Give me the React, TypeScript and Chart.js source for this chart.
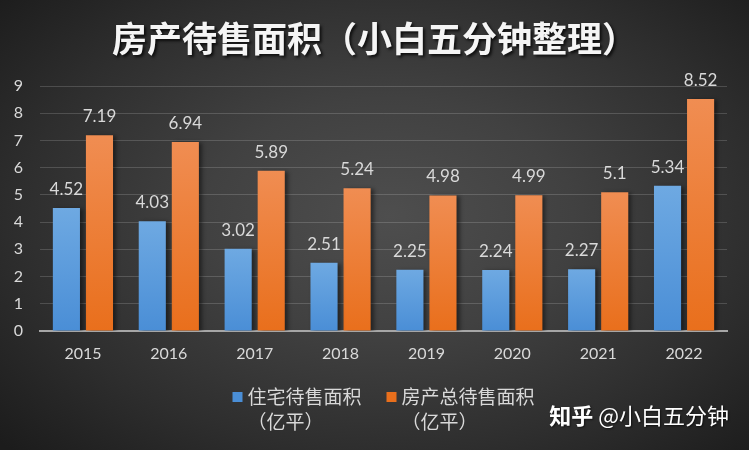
import React, { useEffect, useRef } from "react";
import { Chart, registerables } from "chart.js";

Chart.register(...registerables);

const years = ["2015", "2016", "2017", "2018", "2019", "2020", "2021", "2022"];
const residential = [4.52, 4.03, 3.02, 2.51, 2.25, 2.24, 2.27, 5.34];
const totalArea = [7.19, 6.94, 5.89, 5.24, 4.98, 4.99, 5.1, 8.52];
const yMax = 9;
const yStep = 1;
const titleText = "房产待售面积（小白五分钟整理）";
const legendLines = [
  ["住宅待售面积", "（亿平）"],
  ["房产总待售面积", "（亿平）"],
];
const watermarkBrand = "知乎";
const watermarkUser = " @小白五分钟";

const BLUE_TOP = "#6ea9e2";
const BLUE_BOTTOM = "#4a8ed6";
const ORANGE_TOP = "#f08d52";
const ORANGE_BOTTOM = "#e96f1c";
const TEXT = "#d9d9d9";
const CJK = '"Noto Sans CJK SC", "Noto Sans", sans-serif';
const NUM = 'Lato, "Open Sans", sans-serif';

function gradientFill(top: string, bottom: string) {
  return (c: any) => {
    const chart = c.chart;
    const { ctx, chartArea, scales } = chart;
    if (!chartArea || c.type !== "data" || !scales.y) return bottom;
    const yTop = scales.y.getPixelForValue(c.raw);
    const yBot = scales.y.getPixelForValue(0);
    if (!isFinite(yTop) || !isFinite(yBot) || yTop === yBot) return bottom;
    const g = ctx.createLinearGradient(0, yTop, 0, yBot);
    g.addColorStop(0, top);
    g.addColorStop(1, bottom);
    return g;
  };
}

const decorPlugin = {
  id: "decor",
  beforeDatasetsDraw(chart: any) {
    const ctx = chart.ctx;
    ctx.save();
    ctx.shadowColor = "rgba(0,0,0,0.45)";
    ctx.shadowBlur = 4;
    ctx.shadowOffsetX = 3;
    ctx.shadowOffsetY = 1;
  },
  afterDatasetsDraw(chart: any) {
    const ctx = chart.ctx;
    ctx.restore();
    // data labels
    ctx.save();
    ctx.font = `17px ${NUM}`;
    ctx.fillStyle = TEXT;
    ctx.textAlign = "center";
    ctx.textBaseline = "alphabetic";
    chart.data.datasets.forEach((ds: any, di: number) => {
      const meta = chart.getDatasetMeta(di);
      meta.data.forEach((bar: any, i: number) => {
        ctx.fillText(String(ds.data[i]), bar.x, bar.y - 13);
      });
    });
    ctx.restore();
  },
  afterDraw(chart: any) {
    const ctx = chart.ctx;
    const W = chart.width;
    // title
    ctx.save();
    ctx.font = `bold 35px ${CJK}`;
    ctx.textAlign = "center";
    ctx.textBaseline = "middle";
    ctx.shadowColor = "rgba(0,0,0,0.75)";
    ctx.shadowBlur = 3;
    ctx.shadowOffsetX = 2;
    ctx.shadowOffsetY = 2;
    ctx.fillStyle = "#f5f5f5";
    ctx.fillText(titleText, W / 2, 39);
    ctx.restore();

    // legend
    ctx.save();
    ctx.font = `19px ${CJK}`;
    ctx.textBaseline = "middle";
    ctx.textAlign = "left";
    const box = 10;
    const boxGap = 5;
    const itemGap = 25;
    const colors = [BLUE_BOTTOM, ORANGE_BOTTOM];
    const widths = legendLines.map(
      (lines) => box + boxGap + Math.max(...lines.map((l) => ctx.measureText(l).width))
    );
    const total = widths.reduce((a, b) => a + b, 0) + itemGap * (widths.length - 1);
    const ca = chart.chartArea;
    let x = (ca.left + ca.right) / 2 - total / 2;
    const y1 = 397;
    const lh = 25;
    legendLines.forEach((lines, i) => {
      ctx.fillStyle = colors[i];
      ctx.fillRect(x, y1 - box / 2, box, box);
      ctx.fillStyle = TEXT;
      lines.forEach((l, k) => ctx.fillText(l, x + box + boxGap, y1 + k * lh));
      x += widths[i] + itemGap;
    });
    ctx.restore();

    // watermark
    ctx.save();
    ctx.textAlign = "left";
    ctx.textBaseline = "middle";
    ctx.shadowColor = "rgba(0,0,0,0.6)";
    ctx.shadowBlur = 2;
    ctx.shadowOffsetX = 1;
    ctx.shadowOffsetY = 1;
    ctx.fillStyle = "#ffffff";
    ctx.font = `bold 22px ${CJK}`;
    const wb = ctx.measureText(watermarkBrand).width;
    ctx.font = `22px ${CJK}`;
    const wu = ctx.measureText(watermarkUser).width;
    const wx = 729 - wb - wu;
    ctx.font = `bold 22px ${CJK}`;
    ctx.fillText(watermarkBrand, wx, 416);
    ctx.font = `22px ${CJK}`;
    ctx.fillText(watermarkUser, wx + wb, 416);
    ctx.restore();
  },
};

export default function App() {
  const ref = useRef<HTMLCanvasElement | null>(null);
  useEffect(() => {
    if (!ref.current) return;
    const chart = new Chart(ref.current, {
      type: "bar",
      data: {
        labels: years,
        datasets: [
          {
            label: legendLines[0].join(""),
            data: residential,
            backgroundColor: gradientFill(BLUE_TOP, BLUE_BOTTOM),
            categoryPercentage: 0.77,
            barPercentage: 0.82,
          },
          {
            label: legendLines[1].join(""),
            data: totalArea,
            backgroundColor: gradientFill(ORANGE_TOP, ORANGE_BOTTOM),
            categoryPercentage: 0.77,
            barPercentage: 0.82,
          },
        ],
      },
      options: {
        responsive: true,
        maintainAspectRatio: false,
        animation: false,
        layout: { padding: { top: 86, left: 14, right: 22, bottom: 87 } },
        plugins: {
          legend: { display: false },
          title: { display: false },
          tooltip: { enabled: false },
        },
        scales: {
          x: {
            grid: { display: false, drawTicks: false },
            border: { display: true, color: "#a6a6a6", width: 2 },
            ticks: { color: TEXT, font: { family: NUM, size: 16 }, padding: 13 },
            afterFit: (s: any) => {
              s.height = 32;
            },
          },
          y: {
            min: 0,
            max: yMax,
            grid: { color: "rgba(255,255,255,0.16)", lineWidth: 1, drawTicks: false },
            border: { display: false },
            ticks: {
              stepSize: yStep,
              color: TEXT,
              font: { family: NUM, size: 16 },
              padding: 17,
            },
            afterFit: (s: any) => {
              s.width = 26;
            },
          },
        },
      },
      plugins: [decorPlugin],
    });
    return () => chart.destroy();
  }, []);

  return (
    <div
      style={{
        position: "fixed",
        left: 0,
        top: 0,
        width: 749,
        height: 450,
        background:
          "radial-gradient(ellipse 70% 75% at 52% 48%, #4e4e4e 0%, #414141 35%, #2e2e2e 70%, #1c1c1c 100%)",
      }}
    >
      <canvas ref={ref} />
    </div>
  );
}
